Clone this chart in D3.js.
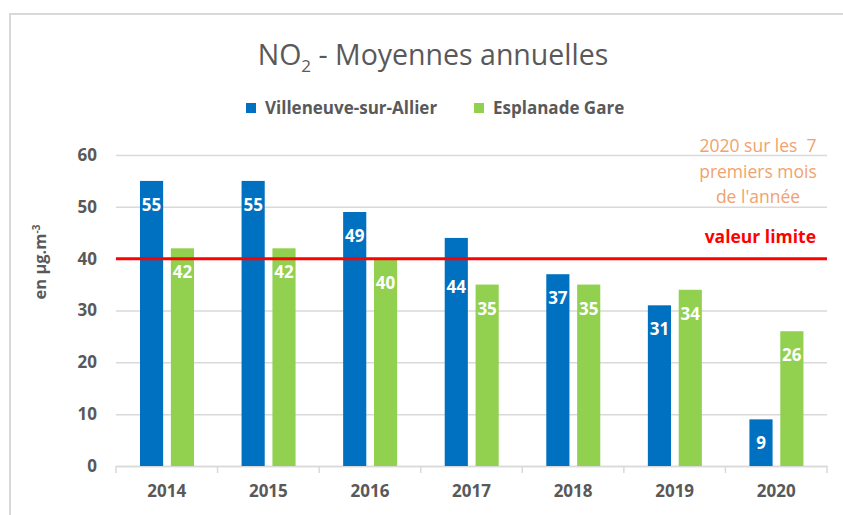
<!DOCTYPE html>
<html>
<head>
<meta charset="utf-8">
<script src="https://cdn.jsdelivr.net/npm/d3@7"></script>
<style>
  body { margin: 0; background: #fff; }
  text { font-family: "Open Sans", "Liberation Sans", sans-serif; }
</style>
</head>
<body>
<div id="chart"></div>
<script>
// data
const years = ["2014", "2015", "2016", "2017", "2018", "2019", "2020"];
const seriesNames = ["Villeneuve-sur-Allier", "Esplanade Gare"];
const villeneuve = [55, 55, 49, 44, 37, 31, 9];
const esplanade = [42, 42, 40, 35, 35, 34, 26];
const limitValue = 40;
const yTicks = [0, 10, 20, 30, 40, 50, 60];

const colors = ["#0070C0", "#92D050"];
const textGray = "#595959";

const width = 843,
  height = 515;

const svg = d3
  .select("#chart")
  .append("svg")
  .attr("width", width)
  .attr("height", height);

// chart border
svg
  .append("rect")
  .attr("x", 10)
  .attr("y", 14)
  .attr("width", width)
  .attr("height", height)
  .attr("fill", "none")
  .attr("stroke", "#d9d9d9")
  .attr("stroke-width", 2);

const x = d3.scaleBand().domain(years).range([116, 827]);
const xSub = d3
  .scaleBand()
  .domain([0, 1])
  .range([24, 78])
  .paddingInner(0.25);
const y = d3.scaleLinear().domain([0, 60]).range([466, 155]);

// gridlines + y labels
const yAxis = svg
  .append("g")
  .attr("transform", "translate(116,0)")
  .call(
    d3
      .axisLeft(y)
      .tickValues(yTicks)
      .tickSize(-(827 - 116))
      .tickPadding(19)
  );
yAxis.select(".domain").remove();
yAxis
  .selectAll(".tick line")
  .attr("stroke", "#d9d9d9")
  .attr("stroke-width", 1.5);
yAxis
  .selectAll(".tick text")
  .attr("fill", textGray)
  .style("font-size", "17px")
  .style("font-weight", "bold");

// x axis
const xAxis = svg
  .append("g")
  .attr("transform", "translate(0,466)")
  .call(d3.axisBottom(x).tickSize(0).tickPadding(19));
xAxis.select(".domain").attr("stroke", "#d9d9d9").attr("stroke-width", 1.5);
xAxis
  .selectAll(".tick text")
  .attr("fill", textGray)
  .style("font-size", "17px")
  .style("font-weight", "bold");

// tick marks at band edges
const edges = years.map(d => x(d)).concat([x(years[years.length - 1]) + x.bandwidth()]);
xAxis
  .selectAll(".edge")
  .data(edges)
  .join("line")
  .attr("class", "edge")
  .attr("x1", d => d)
  .attr("x2", d => d)
  .attr("y1", 0)
  .attr("y2", 7)
  .attr("stroke", "#d9d9d9")
  .attr("stroke-width", 1.5);

// bars
const rows = years.map((yr, i) => ({
  year: yr,
  values: [villeneuve[i], esplanade[i]]
}));

const groups = svg
  .selectAll(".grp")
  .data(rows)
  .join("g")
  .attr("class", "grp")
  .attr("transform", d => "translate(" + x(d.year) + ",0)");

groups
  .selectAll(".bar")
  .data(d => d.values.map((v, k) => ({ k: k, v: v })))
  .join("rect")
  .attr("class", "bar")
  .attr("x", d => xSub(d.k))
  .attr("y", d => y(d.v))
  .attr("width", xSub.bandwidth())
  .attr("height", d => y(0) - y(d.v))
  .attr("fill", d => colors[d.k]);

// limit line
svg
  .append("line")
  .attr("x1", 116)
  .attr("x2", 827)
  .attr("y1", y(limitValue))
  .attr("y2", y(limitValue))
  .attr("stroke", "#FF0000")
  .attr("stroke-width", 3);

// value labels; the 2017 blue one was moved down off the limit line
groups
  .selectAll(".val")
  .data(d => d.values.map((v, k) => ({ k: k, v: v, year: d.year })))
  .join("text")
  .attr("class", "val")
  .attr("x", d => xSub(d.k) + xSub.bandwidth() / 2)
  .attr("y", d => y(d.v) + (d.year === "2017" && d.k === 0 ? 55 : 30))
  .attr("text-anchor", "middle")
  .attr("fill", "#fff")
  .style("font-size", "17px")
  .style("font-weight", "bold")
  .text(d => d.v);

// title
const title = svg
  .append("text")
  .attr("x", 433)
  .attr("y", 65)
  .attr("text-anchor", "middle")
  .attr("fill", textGray)
  .style("font-size", "28.5px");
title.append("tspan").text("NO");
title
  .append("tspan")
  .attr("dy", 7)
  .style("font-size", "17px")
  .text("2");
title
  .append("tspan")
  .attr("dy", -7)
  .text(" - Moyennes annuelles");

// legend
const legendX = [246, 474];
const legend = svg
  .selectAll(".legend")
  .data(seriesNames)
  .join("g")
  .attr("class", "legend")
  .attr("transform", (d, i) => "translate(" + legendX[i] + ",103)");
legend
  .append("rect")
  .attr("width", 10)
  .attr("height", 10)
  .attr("fill", (d, i) => colors[i]);
legend
  .append("text")
  .attr("x", 19)
  .attr("y", 11)
  .attr("fill", textGray)
  .style("font-size", "17px")
  .style("font-weight", "bold")
  .text(d => d);

// y axis title
const yTitle = svg
  .append("text")
  .attr("transform", "translate(46,262) rotate(-90)")
  .attr("text-anchor", "middle")
  .attr("fill", textGray)
  .style("font-size", "16.5px")
  .style("font-weight", "bold");
yTitle.append("tspan").text("en µg.m");
yTitle
  .append("tspan")
  .attr("dy", -6)
  .style("font-size", "10px")
  .text("-3");

// annotations
const noteLines = ["2020 sur les  7", "premiers mois", "de l'année"];
svg
  .append("text")
  .attr("text-anchor", "middle")
  .attr("fill", "#F1A26E")
  .style("font-size", "17.5px")
  .style("white-space", "pre")
  .selectAll("tspan")
  .data(noteLines)
  .join("tspan")
  .attr("x", 758)
  .attr("y", (d, i) => 152 + i * 25.5)
  .text(d => d);

svg
  .append("text")
  .attr("x", 816)
  .attr("y", 243)
  .attr("text-anchor", "end")
  .attr("fill", "#FF0000")
  .style("font-size", "17.5px")
  .style("font-weight", "bold")
  .text("valeur limite");
</script>
</body>
</html>
